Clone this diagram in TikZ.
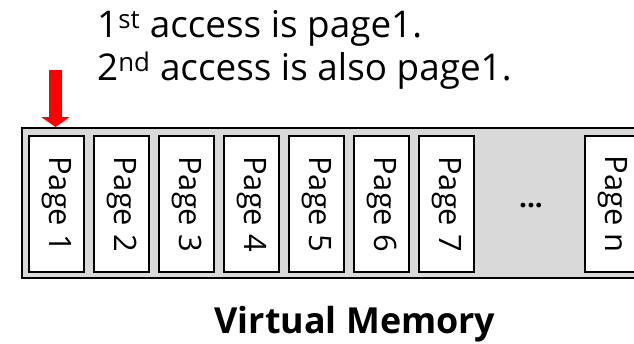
\documentclass[tikz,border=0pt]{standalone}
\usepackage{fontspec}
\setmainfont{Open Sans}
\usetikzlibrary{arrows.meta}
\definecolor{memgray}{HTML}{D9D9D9}
\begin{document}
\begin{tikzpicture}[x=1bp,y=-1bp,
  pagebox/.style={draw=black,line width=2.2pt,fill=white,minimum width=55bp,minimum height=136bp,inner sep=0pt,anchor=north west,font=\fontsize{31}{31}\selectfont},
  toptext/.style={anchor=base west,inner sep=0pt,font=\fontsize{37}{37}\selectfont},
]
\useasboundingbox (0,0) rectangle (634,343);
\clip (0,0) rectangle (634,343);
\node[draw=black,line width=2.2pt,fill=memgray,anchor=north west,minimum width=700bp,minimum height=150bp,inner sep=0pt] (mem) at (21,127) {};
\node[pagebox] (p1) at (28,135) {\rotatebox{-90}{Page 1}};
\node[pagebox] (p2) at (93,135) {\rotatebox{-90}{Page 2}};
\node[pagebox] (p3) at (158,135) {\rotatebox{-90}{Page 3}};
\node[pagebox] (p4) at (223,135) {\rotatebox{-90}{Page 4}};
\node[pagebox] (p5) at (288,135) {\rotatebox{-90}{Page 5}};
\node[pagebox] (p6) at (353,135) {\rotatebox{-90}{Page 6}};
\node[pagebox] (p7) at (418,135) {\rotatebox{-90}{Page 7}};
\node[pagebox] (pn) at (584,135) {\rotatebox{-90}{Page n}};
\node[inner sep=0pt,font=\fontsize{28}{28}\selectfont\bfseries] (dots) at (531,206) {...};
\node[toptext] (l1) at (97,37) {1\textsuperscript{st} access is page1.};
\node[toptext] (l2) at (97,80) {2\textsuperscript{nd} access is also page1.};
\node[anchor=base,inner sep=0pt,font=\fontsize{36}{36}\selectfont\bfseries] (vm) at (355,333) {Virtual Memory};
\coordinate (arrtop) at (55.5,70);
\draw[red,line width=13bp,-{Triangle[width=28bp,length=10bp]}] (arrtop) -- (arrtop |- mem.north);
\end{tikzpicture}
\end{document}
